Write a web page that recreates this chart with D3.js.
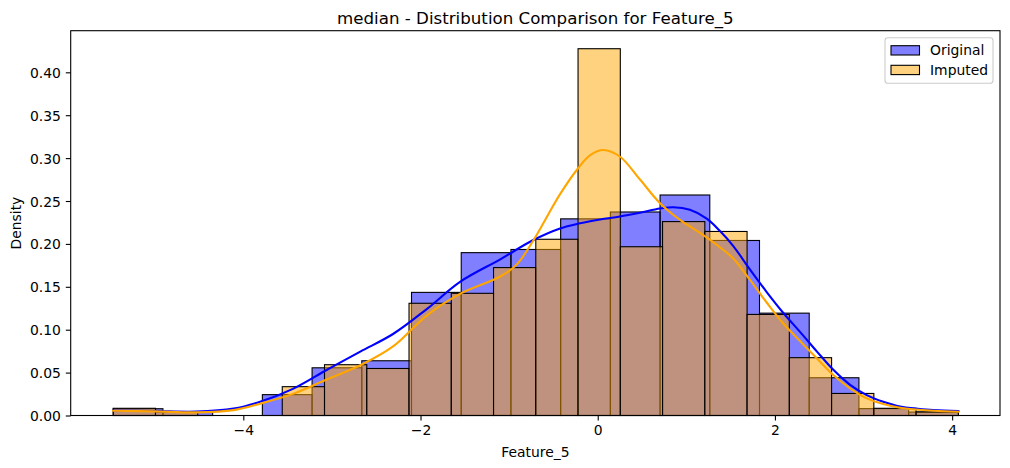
<!DOCTYPE html>
<html><head><meta charset="utf-8">
<script src="https://cdn.jsdelivr.net/npm/d3@7"></script>
<style>
body{margin:0;background:#fff}
svg{display:block}
text{font-family:"DejaVu Sans",sans-serif;fill:#000}
</style>
</head><body>
<svg id="chart" width="1010" height="468"></svg>
<script>
// ---------------- data ----------------
const chartTitle = "median - Distribution Comparison for Feature_5";
const xLabel = "Feature_5";
const yLabel = "Density";
const seriesNames = ["Original", "Imputed"];
const seriesColors = ["blue", "orange"];
const dataRange = [-5.468, 4.070];           // min / max of the feature
const xTicks = [-4, -2, 0, 2, 4];
const yTicks = [0, 0.05, 0.10, 0.15, 0.20, 0.25, 0.30, 0.35, 0.40];

// histogram densities (17 bins for Original, 20 bins for Imputed)
const originalDensity = [0.0079, 0.0040, 0, 0.0243, 0.0556, 0.0638, 0.1435, 0.1898, 0.1935, 0.2292,
  0.2372, 0.2570, 0.2040, 0.1193, 0.0440, 0.0080, 0.0040];
const imputedDensity = [0.0084, 0.0042, 0, 0, 0.0336, 0.0592, 0.0548, 0.1308, 0.1424, 0.1724,
  0.2054, 0.4275, 0.1967, 0.2260, 0.2145, 0.1178, 0.0674, 0.0257, 0.0084, 0.0042];

// KDE curves: [x, density]
const originalKde = [[-5.47,0.0058],[-5.00,0.0052],[-4.53,0.0045],[-4.11,0.0080],[-3.81,0.0160],
  [-3.44,0.0310],[-3.06,0.0530],[-2.68,0.0745],[-2.31,0.0950],[-1.93,0.1240],[-1.55,0.1560],
  [-1.10,0.1820],[-0.727,0.2045],[-0.425,0.2180],[-0.20,0.2240],[0.026,0.2285],[0.25,0.2320],
  [0.477,0.2364],[0.703,0.2412],[0.853,0.2427],[1.04,0.2397],[1.23,0.2295],[1.38,0.2150],
  [1.53,0.1975],[1.719,0.1700],[1.907,0.1439],[2.095,0.1195],[2.283,0.0975],[2.472,0.0748],
  [2.659,0.0532],[2.848,0.0358],[3.036,0.0238],[3.223,0.0160],[3.412,0.0105],[3.788,0.0063],[4.07,0.0052]];
const imputedKde = [[-5.47,0.0055],[-5.00,0.0048],[-4.53,0.0037],[-4.11,0.0063],[-3.81,0.0138],
  [-3.44,0.0252],[-3.06,0.0420],[-2.68,0.0585],[-2.31,0.0805],[-1.93,0.1165],[-1.55,0.1420],
  [-1.10,0.1620],[-0.914,0.1760],[-0.727,0.2040],[-0.59,0.2285],[-0.425,0.2580],[-0.219,0.2885],
  [-0.085,0.3035],[0.063,0.3094],[0.252,0.3016],[0.477,0.2750],[0.703,0.2475],[0.929,0.2280],
  [1.155,0.2128],[1.38,0.1960],[1.53,0.1830],[1.719,0.1580],[1.907,0.1317],[2.095,0.1072],
  [2.283,0.0868],[2.472,0.0667],[2.659,0.0472],[2.848,0.0317],[3.036,0.0200],[3.223,0.0134],
  [3.412,0.0091],[3.788,0.0056],[4.07,0.0044]];

// ---------------- layout ----------------
const plot = {left: 70.7, right: 1000, top: 30.7, bottom: 415.5};
const svg = d3.select("#chart");

const x = d3.scaleLinear().domain([-5.948, 4.540]).range([plot.left, plot.right]);
const y = d3.scaleLinear().domain([0, 0.4485]).range([plot.bottom, plot.top]);

const gBars = svg.append("g");
function drawHist(dens, color) {
  const n = dens.length;
  const w = (dataRange[1] - dataRange[0]) / n;
  const bins = dens.map((d, i) => ({x0: dataRange[0] + i * w, x1: dataRange[0] + (i + 1) * w, d}));
  gBars.append("g").selectAll("rect").data(bins.filter(b => b.d > 0)).join("rect")
    .attr("x", b => x(b.x0)).attr("width", b => x(b.x1) - x(b.x0))
    .attr("y", b => y(b.d)).attr("height", b => y(0) - y(b.d))
    .attr("fill", color).attr("fill-opacity", 0.5)
    .attr("stroke", "#000").attr("stroke-width", 1.1);
}
drawHist(originalDensity, seriesColors[0]);
drawHist(imputedDensity, seriesColors[1]);

const line = d3.line().x(p => x(p[0])).y(p => y(p[1])).curve(d3.curveCatmullRom.alpha(0.5));
[originalKde, imputedKde].forEach((pts, i) => {
  svg.append("path").attr("d", line(pts)).attr("fill", "none")
    .attr("stroke", seriesColors[i]).attr("stroke-width", 2.1)
    .attr("stroke-linejoin", "round").attr("stroke-linecap", "square");
});

// spines
svg.append("rect").attr("x", plot.left).attr("y", plot.top)
  .attr("width", plot.right - plot.left).attr("height", plot.bottom - plot.top)
  .attr("fill", "none").attr("stroke", "#000").attr("stroke-width", 1.1);

// axes
const fmtMinus = v => String(v).replace("-", "\u2212");
const xAxis = d3.axisBottom(x).tickValues(xTicks).tickSize(4.9).tickPadding(4.9).tickFormat(fmtMinus);
const gx = svg.append("g").attr("transform", `translate(0,${plot.bottom})`).call(xAxis);
gx.select(".domain").remove();
gx.selectAll("line").attr("stroke-width", 1.1);
gx.selectAll("text").attr("font-size", 13.9).attr("font-family", "DejaVu Sans").attr("dy", "0.72em");

const yAxis = d3.axisLeft(y).tickValues(yTicks).tickSize(4.9).tickPadding(4.9).tickFormat(d3.format(".2f"));
const gy = svg.append("g").attr("transform", `translate(${plot.left},0)`).call(yAxis);
gy.select(".domain").remove();
gy.selectAll("line").attr("stroke-width", 1.1);
gy.selectAll("text").attr("font-size", 13.9).attr("font-family", "DejaVu Sans").attr("dy", "0.36em");

// labels
const cx = (plot.left + plot.right) / 2;
svg.append("text").attr("x", cx).attr("y", 23.5).attr("text-anchor", "middle")
  .attr("font-size", 16.67).text(chartTitle);
svg.append("text").attr("x", cx).attr("y", 456.5).attr("text-anchor", "middle")
  .attr("font-size", 13.9).text(xLabel);
svg.append("text").attr("transform", `translate(21,${(plot.top + plot.bottom) / 2}) rotate(-90)`)
  .attr("text-anchor", "middle").attr("font-size", 13.9).text(yLabel);

// legend
const lg = svg.append("g");
lg.append("rect").attr("x", 885).attr("y", 37.7).attr("width", 108).attr("height", 45.6)
  .attr("rx", 2.8).attr("fill", "#fff").attr("fill-opacity", 0.8)
  .attr("stroke", "#ccc").attr("stroke-width", 1.1);
seriesNames.forEach((name, i) => {
  const yy = 45.7 + i * 19.6;
  lg.append("rect").attr("x", 891).attr("y", yy).attr("width", 28.5).attr("height", 9.3)
    .attr("fill", seriesColors[i]).attr("fill-opacity", 0.5)
    .attr("stroke", "#000").attr("stroke-width", 1.1);
  lg.append("text").attr("x", 930).attr("y", yy + 9.6).attr("font-size", 13.9).text(name);
});
</script>
</body></html>
